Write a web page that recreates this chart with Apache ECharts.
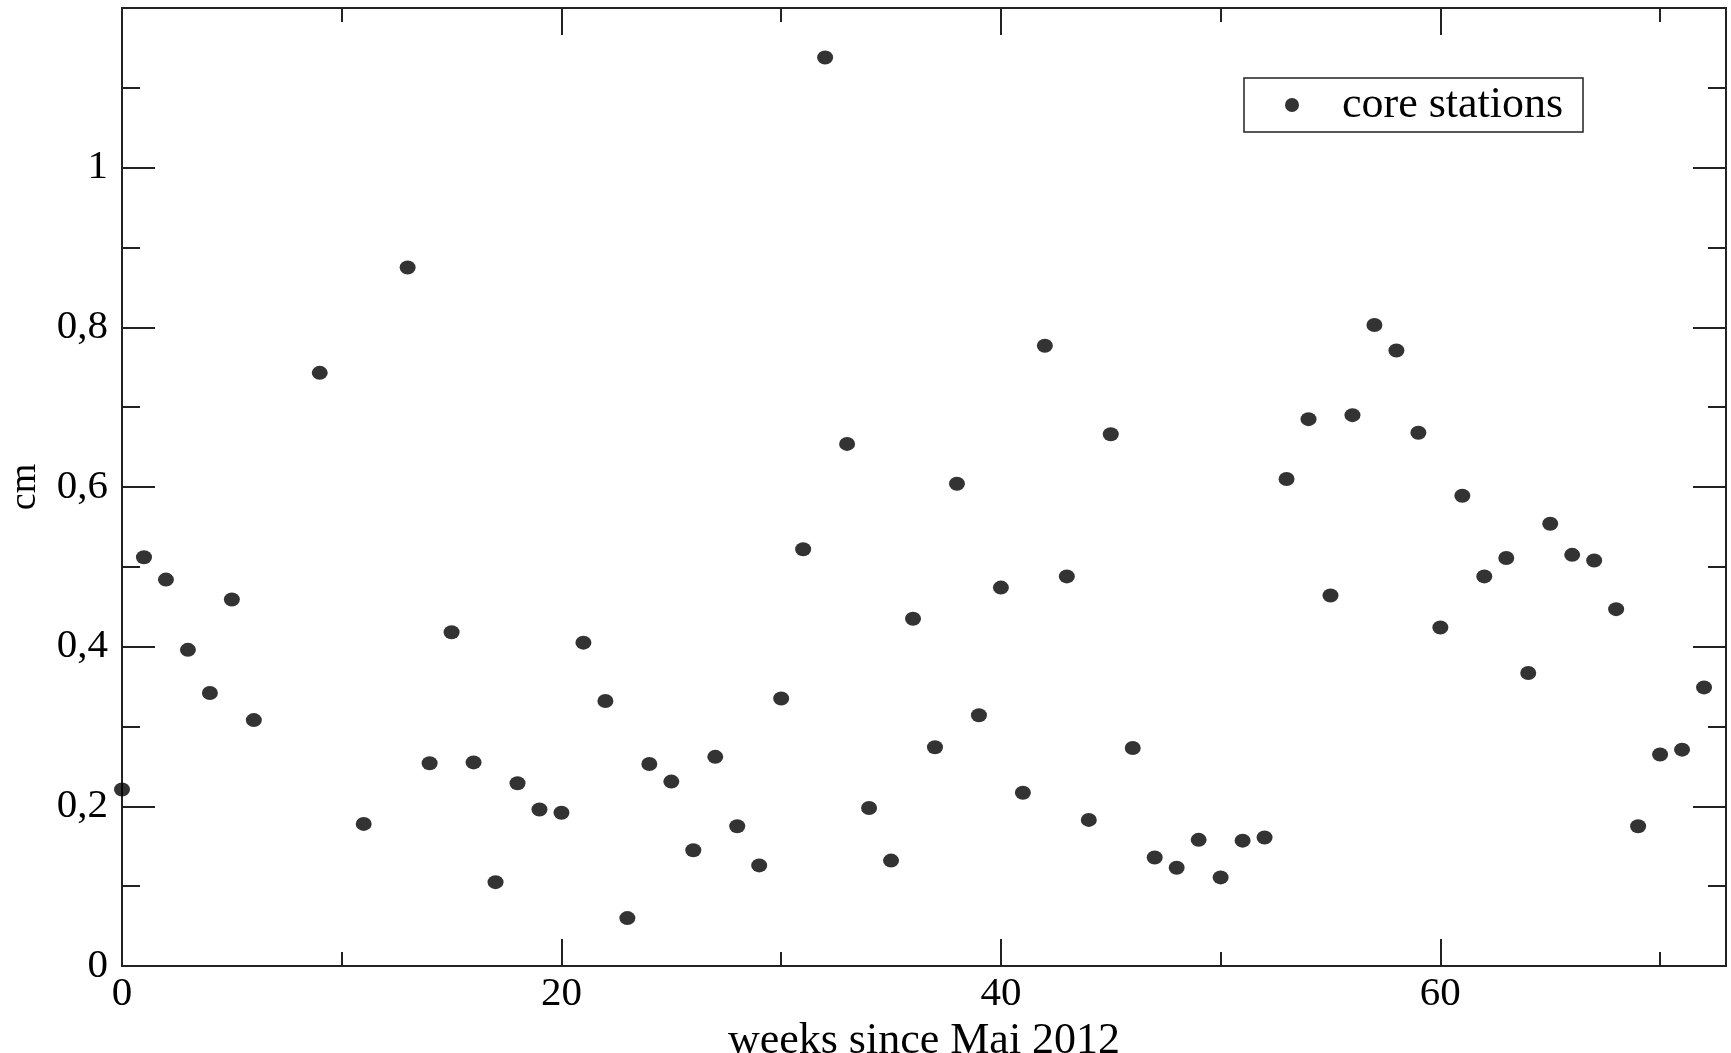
<!DOCTYPE html>
<html><head><meta charset="utf-8">
<script src="https://cdn.jsdelivr.net/npm/echarts@6/dist/echarts.min.js"></script>
<style>html,body{margin:0;padding:0;background:#fff}#c{width:1731px;height:1053px}</style>
</head><body><div id="c"></div>
<script>
const weeks = [0,1,2,3,4,5,6,9,11,13,14,15,16,17,18,19,20,21,22,23,24,25,26,27,28,29,30,31,32,33,34,35,36,37,38,39,40,41,42,43,44,45,46,47,48,49,50,51,52,53,54,55,56,57,58,59,60,61,62,63,64,65,66,67,68,69,70,71,72];
const values = [0.221,0.512,0.484,0.396,0.342,0.459,0.308,0.743,0.178,0.875,
  0.254,0.418,0.255,0.105,0.229,0.196,0.192,0.405,0.332,0.060,
  0.253,0.231,0.145,0.262,0.175,0.126,0.335,0.522,1.138,0.654,
  0.198,0.132,0.435,0.274,0.604,0.314,0.474,0.217,0.777,0.488,
  0.183,0.666,0.273,0.136,0.123,0.158,0.111,0.157,0.161,0.610,
  0.685,0.464,0.690,0.803,0.771,0.668,0.424,0.589,0.488,0.511,
  0.367,0.554,0.515,0.508,0.447,0.175,0.265,0.271,0.349];
const seriesName = 'core stations';
const xTitle = 'weeks since Mai 2012';
const yTitle = 'cm';
const xRange = [0, 73];
const yRange = [0, 1.2];

const FONT = '"Liberation Serif", "Times New Roman", serif';
const LINE = {show: true, onZero: false, lineStyle: {color: '#222', width: 2}};
const points = weeks.map((w, i) => [w, values[i]]);

function xAxisDef(pos, interval, len, labels) {
  return {
    type: 'value', position: pos, min: xRange[0], max: xRange[1], interval: interval,
    axisLine: LINE, splitLine: {show: false},
    axisTick: {show: true, inside: true, length: len, lineStyle: {color: '#222', width: 2}},
    axisLabel: labels ? {
      show: true, fontFamily: FONT, fontSize: 41, color: '#000', margin: 8,
      showMaxLabel: false,
      formatter: v => (v % 20 === 0 ? String(v) : '')
    } : {show: false},
    name: labels ? xTitle : '', nameLocation: 'middle', nameGap: 48,
    nameTextStyle: {fontFamily: FONT, fontSize: 44, color: '#000'}
  };
}
function yAxisDef(pos, labels) {
  return {
    type: 'value', position: pos, min: yRange[0], max: yRange[1], interval: 0.2,
    axisLine: LINE, splitLine: {show: false},
    axisTick: {show: true, inside: true, length: 33, lineStyle: {color: '#222', width: 2}},
    minorTick: {show: true, splitNumber: 2, length: 18, lineStyle: {color: '#222', width: 2}},
    axisLabel: labels ? {
      show: true, fontFamily: FONT, fontSize: 41, color: '#000', margin: 14,
      showMaxLabel: false,
      formatter: v => String(+v.toFixed(1)).replace('.', ',')
    } : {show: false},
    name: labels ? yTitle : '', nameLocation: 'middle', nameGap: 78,
    nameTextStyle: {fontFamily: FONT, fontSize: 38, color: '#000'}
  };
}

const chart = echarts.init(document.getElementById('c'));
chart.setOption({
  animation: false,
  backgroundColor: '#fff',
  grid: {left: 122, right: 5, top: 8, bottom: 87, containLabel: false, outerBoundsMode: 'none'},
  xAxis: [
    xAxisDef('bottom', 20, 27, true),
    xAxisDef('bottom', 10, 14, false),
    xAxisDef('top', 20, 27, false),
    xAxisDef('top', 10, 14, false)
  ],
  yAxis: [yAxisDef('left', true), yAxisDef('right', false)],
  legend: {
    left: 1244, top: 78, orient: 'horizontal',
    padding: [5, 15, 5, 41],
    borderColor: '#222', borderWidth: 1.5,
    itemWidth: 16, itemHeight: 14, icon: 'circle',
    textStyle: {fontFamily: FONT, fontSize: 44, color: '#000', padding: [0, 0, 0, 37], width: 226, lineHeight: 44},
    data: [seriesName]
  },
  series: [{
    name: seriesName, type: 'scatter', xAxisIndex: 0, yAxisIndex: 0,
    symbol: 'circle', symbolSize: [16, 14],
    itemStyle: {color: '#000'},
    data: points
  }]
});
</script>
</body></html>
